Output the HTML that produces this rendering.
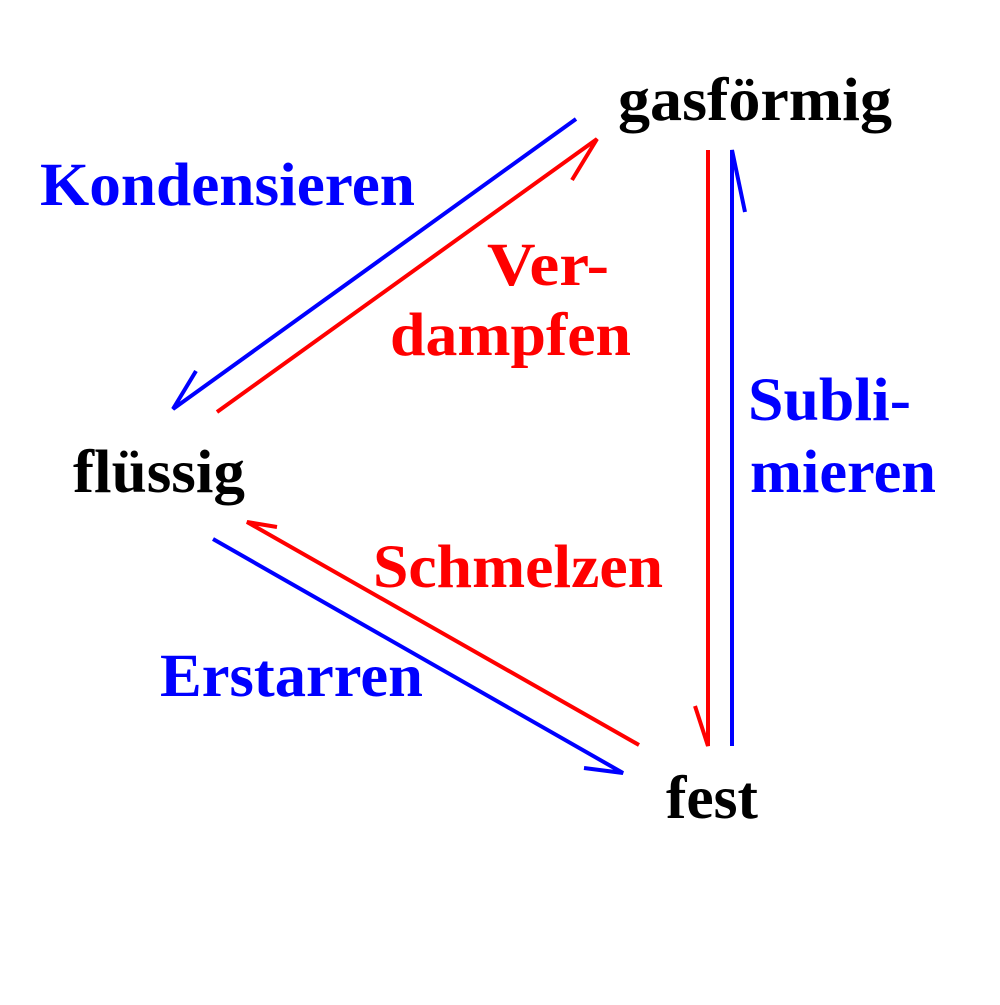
<!DOCTYPE html>
<html><head><meta charset="utf-8"><style>html,body{margin:0;padding:0;background:#fff}</style></head>
<body>
<svg width="1000" height="1000" viewBox="0 0 1000 1000" xmlns="http://www.w3.org/2000/svg">
<g font-family="Liberation Serif, serif" font-weight="bold" font-size="61">
<text x="618" y="120" fill="#000" textLength="274" lengthAdjust="spacingAndGlyphs">gasförmig</text>
<text x="40" y="205" fill="#0000ff" textLength="375" lengthAdjust="spacingAndGlyphs">Kondensieren</text>
<text x="487" y="285" fill="#ff0000" textLength="122" lengthAdjust="spacingAndGlyphs">Ver-</text>
<text x="390" y="355" fill="#ff0000" textLength="241" lengthAdjust="spacingAndGlyphs">dampfen</text>
<text x="73" y="492" fill="#000" textLength="172" lengthAdjust="spacingAndGlyphs">flüssig</text>
<text x="748" y="420" fill="#0000ff" textLength="163" lengthAdjust="spacingAndGlyphs">Subli-</text>
<text x="750" y="492" fill="#0000ff" textLength="186" lengthAdjust="spacingAndGlyphs">mieren</text>
<text x="373" y="587" fill="#ff0000" textLength="290" lengthAdjust="spacingAndGlyphs">Schmelzen</text>
<text x="160" y="696" fill="#0000ff" textLength="263" lengthAdjust="spacingAndGlyphs">Erstarren</text>
<text x="666" y="818" fill="#000" textLength="92" lengthAdjust="spacingAndGlyphs">fest</text>
</g>
<g fill="none" stroke-width="4" stroke-linecap="butt">
<polyline stroke="#0000ff" points="576,119 173,409 196,371"/>
<polyline stroke="#ff0000" points="217,412 597,139 572,180"/>
<polyline stroke="#ff0000" points="708,150 708,746 695,706"/>
<polyline stroke="#0000ff" points="732,746 732,150 745,212"/>
<polyline stroke="#ff0000" points="639,745 247,522 277,527"/>
<polyline stroke="#0000ff" points="213,539 623,773 584,768"/>
</g>
</svg>
</body></html>
